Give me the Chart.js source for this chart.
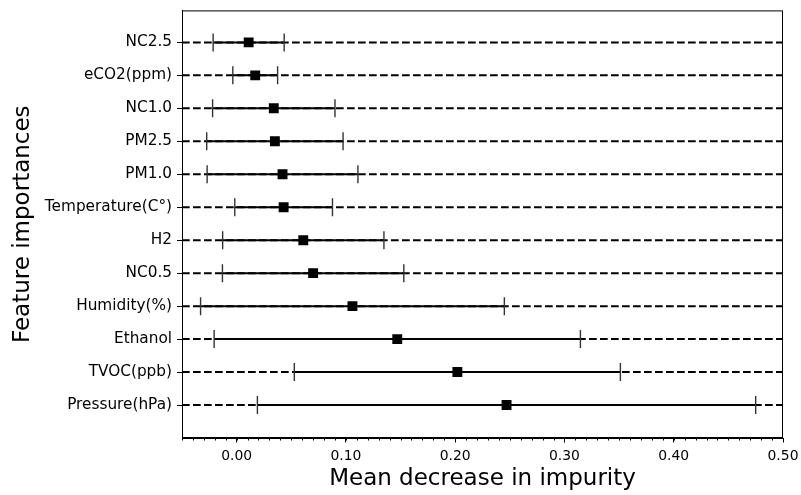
<!DOCTYPE html>
<html>
<head>
<meta charset="utf-8">
<script src="https://cdn.jsdelivr.net/npm/chart.js@4"></script>
<style>
  html, body { margin: 0; padding: 0; background: #fff; }
</style>
</head>
<body>
<canvas id="impChart" width="801" height="495"></canvas>
<script>
// --- data, top row first ---
const features = ['NC2.5', 'eCO2(ppm)', 'NC1.0', 'PM2.5', 'PM1.0', 'Temperature(C°)',
                  'H2', 'NC0.5', 'Humidity(%)', 'Ethanol', 'TVOC(ppb)', 'Pressure(hPa)'];
const meanImportance = [0.011, 0.017, 0.034, 0.035, 0.042, 0.043,
                        0.061, 0.070, 0.106, 0.147, 0.202, 0.247];
const stdImportance = [0.0325, 0.0205, 0.056, 0.0624, 0.069, 0.0447,
                       0.0738, 0.083, 0.139, 0.1676, 0.1492, 0.228];
const xTickValues = [0.0, 0.1, 0.2, 0.3, 0.4, 0.5];
const xRange = [-0.05, 0.5];

const FONT = 'DejaVu Sans';

// dashed guide line for every feature
const dashLines = features.map((f, i) => ({
  type: 'line',
  showLine: true,
  data: [{ x: xRange[0], y: i }, { x: xRange[1], y: i }],
  borderColor: '#000',
  borderWidth: 2,
  borderDash: [7.7, 3.3],
  pointRadius: 0,
  order: 3
}));

// solid error bar with caps
const errBars = features.map((f, i) => ({
  type: 'line',
  showLine: true,
  data: [
    { x: meanImportance[i] - stdImportance[i], y: i },
    { x: meanImportance[i] + stdImportance[i], y: i }
  ],
  borderColor: '#000',
  borderWidth: 2,
  pointStyle: 'line',
  pointRotation: 90,
  pointRadius: 9,
  pointBorderColor: '#333',
  pointBorderWidth: 1.4,
  order: 2
}));

const markers = {
  type: 'scatter',
  data: features.map((f, i) => ({ x: meanImportance[i], y: i })),
  pointStyle: 'rect',
  pointRadius: 7,
  backgroundColor: '#000',
  borderColor: '#000',
  borderWidth: 0,
  order: 1
};

// frame round the plot + minor x ticks
const framePlugin = {
  id: 'frame',
  afterDraw(chart) {
    const { ctx, chartArea: a, scales } = chart;
    ctx.save();
    ctx.strokeStyle = '#000';
    ctx.lineWidth = 1;
    ctx.strokeRect(a.left + 0.5, a.top + 0.5, a.right - a.left - 1, a.bottom - a.top - 1);
    ctx.beginPath();
    for (let k = -5; k <= 50; k++) {
      const px = Math.round(scales.x.getPixelForValue(k / 100)) + 0.5;
      ctx.moveTo(px, a.bottom);
      ctx.lineTo(px, a.bottom + 2.5);
    }
    ctx.stroke();
    ctx.restore();
  }
};

const noPad = s => { s.paddingLeft = 0; s.paddingRight = 0; s.paddingTop = 0; s.paddingBottom = 0; };

new Chart(document.getElementById('impChart'), {
  type: 'scatter',
  data: { datasets: [...dashLines, ...errBars, markers] },
  plugins: [framePlugin],
  options: {
    responsive: false,
    devicePixelRatio: 1,
    animation: false,
    events: [],
    layout: { padding: { top: 10, right: 18, left: 0, bottom: 0 } },
    plugins: { legend: { display: false }, tooltip: { enabled: false } },
    scales: {
      x: {
        type: 'linear',
        min: xRange[0],
        max: xRange[1],
        afterBuildTicks: s => { s.ticks = xTickValues.map(v => ({ value: v })); },
        afterFit: s => { s.height = 57; noPad(s); },
        ticks: {
          color: '#000',
          font: { family: FONT, size: 13.9 },
          padding: 6,
          maxRotation: 0,
          callback: v => Number(v).toFixed(2)
        },
        grid: { drawOnChartArea: false, tickLength: 4.5, color: '#000', tickWidth: 1 },
        border: { color: '#000', width: 1 },
        title: {
          display: true,
          text: 'Mean decrease in impurity',
          color: '#000',
          font: { family: FONT, size: 23 },
          padding: { top: 0, bottom: 2 }
        }
      },
      y: {
        type: 'linear',
        min: -0.97,
        max: 12,
        reverse: true,
        afterBuildTicks: s => { s.ticks = features.map((f, i) => ({ value: i })); },
        afterFit: s => { s.width = 182; noPad(s); },
        ticks: {
          color: '#000',
          font: { family: FONT, size: 15.3 },
          padding: 5,
          callback: v => features[v]
        },
        grid: { drawOnChartArea: false, tickLength: 5, color: '#000', tickWidth: 1 },
        border: { color: '#000', width: 1 },
        title: {
          display: true,
          text: 'Feature importances',
          color: '#000',
          font: { family: FONT, size: 23 },
          padding: { top: 9, bottom: 0 }
        }
      }
    }
  }
});
</script>
</body>
</html>
